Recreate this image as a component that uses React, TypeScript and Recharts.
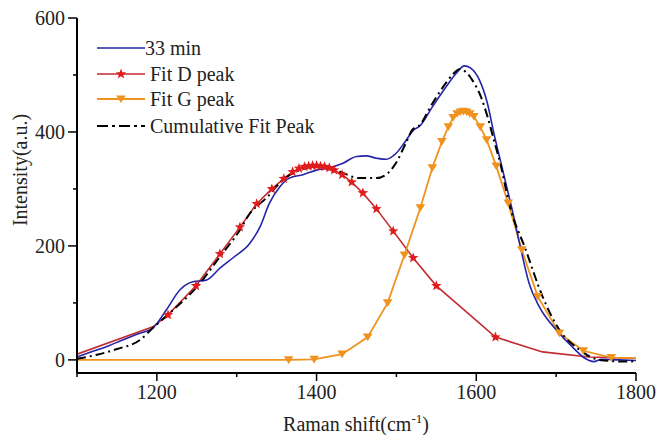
import React from "react";
import { ComposedChart, Line, XAxis, YAxis } from "recharts";

// measured spectrum, 33 min
const spectrumX = [1100, 1120, 1140, 1154, 1175, 1195, 1212, 1229, 1245, 1262, 1279, 1297, 1316, 1329, 1341, 1354, 1366, 1383, 1400, 1416, 1433, 1450, 1462, 1475, 1487, 1500, 1510, 1522, 1529, 1545, 1562, 1575, 1585, 1593, 1604, 1614, 1622, 1631, 1637, 1645, 1656, 1666, 1679, 1700, 1720, 1737, 1747, 1757, 1779, 1800];
const spectrumY = [5, 15, 25, 33, 45, 56, 88, 123, 137, 140, 161, 181, 204, 233, 275, 304, 319, 325, 333, 337, 345, 357, 358, 354, 352, 363, 381, 404, 410, 444, 479, 503, 516, 512, 491, 450, 398, 345, 310, 263, 193, 135, 93, 53, 23, 2, -3, 1, 0, -1];

// fitted D band
const fitDX = [1100, 1195, 1214, 1249, 1279, 1304, 1325, 1344, 1359, 1370, 1378, 1385, 1390, 1395, 1400, 1405, 1410, 1416, 1422, 1432, 1444, 1458, 1475, 1496, 1521, 1550, 1624, 1683, 1741, 1800];
const fitDY = [10, 58, 79, 130, 186, 233, 274, 300, 318, 330, 336, 339, 340, 341, 341, 340, 339, 337, 333, 325, 312, 293, 265, 226, 179, 130, 40, 14, 5, 3];
const fitDSymbol = [false, false, true, true, true, true, true, true, true, true, true, true, true, true, true, true, true, true, true, true, true, true, true, true, true, true, true, false, false, false];

// fitted G band
const fitGX = [1100, 1300, 1365, 1397, 1432, 1464, 1489, 1510, 1530, 1545, 1557, 1565, 1571, 1576, 1580, 1584, 1588, 1592, 1597, 1605, 1613, 1625, 1640, 1657, 1677, 1704, 1734, 1769, 1800];
const fitGY = [0, 0, 0, 1, 10, 40, 100, 184, 267, 337, 383, 409, 425, 432, 435, 436, 435, 432, 427, 409, 386, 340, 275, 193, 111, 47, 16, 4, 3];
const fitGSymbol = [false, false, true, true, true, true, true, true, true, true, true, true, true, true, true, true, true, true, true, true, true, true, true, true, true, true, true, true, false];

// cumulative fit
const cumX = [1100, 1125, 1150, 1179, 1195, 1216, 1250, 1279, 1304, 1316, 1337, 1358, 1379, 1400, 1420, 1433, 1454, 1475, 1491, 1500, 1512, 1520, 1529, 1545, 1562, 1570, 1579, 1587, 1595, 1606, 1614, 1622, 1631, 1641, 1662, 1683, 1704, 1729, 1754, 1787, 1800];
const cumY = [2, 9, 19, 35, 56, 82, 128, 181, 228, 256, 284, 316, 333, 339, 336, 328, 319, 319, 330, 347, 381, 404, 412, 450, 486, 500, 510, 505, 491, 461, 427, 386, 339, 275, 193, 111, 53, 18, 0, -3, -2];

const xTicks = [1100, 1200, 1300, 1400, 1500, 1600, 1700, 1800];
const xLabels = [1200, 1400, 1600, 1800];
const yTicks = [0, 100, 200, 300, 400, 500, 600];
const yLabels = [0, 200, 400, 600];

const legendNames = ["33 min", "Fit D peak", "Fit G peak", "Cumulative Fit Peak"];

const BLUE = "#2424a8";
const RED_LINE = "#c42a30";
const RED_MARK = "#e01c1c";
const ORANGE = "#f0921e";
const FONT = "'Liberation Serif', 'Times New Roman', serif";

const toRows = (xs: number[], ys: number[], marks?: boolean[]) =>
  xs.map((x, i) => ({ x, y: ys[i], m: marks ? marks[i] : false }));

const spectrum = toRows(spectrumX, spectrumY);
const fitD = toRows(fitDX, fitDY, fitDSymbol);
const fitG = toRows(fitGX, fitGY, fitGSymbol);
const cumulative = toRows(cumX, cumY);

function starPath(cx: number, cy: number, r: number) {
  let d = "";
  for (let i = 0; i < 10; i++) {
    const rr = i % 2 === 0 ? r : r * 0.42;
    const a = -Math.PI / 2 + (i * Math.PI) / 5;
    d += (i === 0 ? "M" : "L") + (cx + rr * Math.cos(a)).toFixed(2) + "," + (cy + rr * Math.sin(a)).toFixed(2);
  }
  return d + "Z";
}

function triPath(cx: number, cy: number, r: number) {
  return `M${cx - r},${cy - r * 0.75}L${cx + r},${cy - r * 0.75}L${cx},${cy + r * 0.85}Z`;
}

const StarDot = (props: any) => {
  const { cx, cy, payload, index } = props;
  if (!payload?.m || cx == null) return <g key={`s${index}`} />;
  return <path key={`s${index}`} d={starPath(cx, cy, 5.5)} fill={RED_MARK} />;
};

const TriDot = (props: any) => {
  const { cx, cy, payload, index } = props;
  if (!payload?.m || cx == null) return <g key={`t${index}`} />;
  return <path key={`t${index}`} d={triPath(cx, cy, 4.8)} fill={ORANGE} />;
};

const XTick = (props: any) => {
  const { x, y, payload } = props;
  const major = xLabels.includes(payload.value);
  return (
    <g>
      <line x1={x} x2={x} y1={y} y2={y + (major ? 8 : 4)} stroke="#000" strokeWidth={1.5} />
      {major && (
        <text x={x} y={y + 26} textAnchor="middle" fontFamily={FONT} fontSize={20} fill="#222">
          {payload.value}
        </text>
      )}
    </g>
  );
};

const YTick = (props: any) => {
  const { x, y, payload } = props;
  const major = yLabels.includes(payload.value);
  return (
    <g>
      <line x1={x - (major ? 9 : 4)} x2={x} y1={y} y2={y} stroke="#000" strokeWidth={1.5} />
      {major && (
        <text x={x - 12} y={y + 7} textAnchor="end" fontFamily={FONT} fontSize={20} fill="#222">
          {payload.value}
        </text>
      )}
    </g>
  );
};

export default function App() {
  const rowY = [48, 74, 99, 126];
  return (
    <div style={{ position: "absolute", left: 0, top: 0, width: 656, height: 435, background: "#fff" }}>
      <ComposedChart width={656} height={435} margin={{ top: 18, right: 20, bottom: 0, left: 0 }}>
        <XAxis
          dataKey="x"
          type="number"
          domain={[1100, 1800]}
          ticks={xTicks}
          allowDataOverflow
          height={62}
          tickSize={0}
          tickMargin={0}
          tickLine={false}
          tick={<XTick />}
          axisLine={{ stroke: "#000", strokeWidth: 2 }}
          interval={0}
        />
        <XAxis xAxisId="top" orientation="top" type="number" domain={[1100, 1800]} height={0} tick={false} tickLine={false} axisLine={{ stroke: "#000", strokeWidth: 2 }} />
        <YAxis
          type="number"
          domain={[-23, 600]}
          ticks={yTicks}
          allowDataOverflow
          width={77}
          tickSize={0}
          tickMargin={0}
          tickLine={false}
          tick={<YTick />}
          axisLine={{ stroke: "#000", strokeWidth: 2 }}
          interval={0}
        />
        <YAxis yAxisId="right" orientation="right" type="number" domain={[-23, 600]} width={0} tick={false} tickLine={false} axisLine={{ stroke: "#000", strokeWidth: 2 }} />
        <Line data={fitD} dataKey="y" type="linear" stroke={RED_LINE} strokeWidth={1.6} dot={<StarDot />} activeDot={false} isAnimationActive={false} />
        <Line data={fitG} dataKey="y" type="linear" stroke={ORANGE} strokeWidth={1.8} dot={<TriDot />} activeDot={false} isAnimationActive={false} />
        <Line data={spectrum} dataKey="y" type="monotone" stroke={BLUE} strokeWidth={1.6} dot={false} activeDot={false} isAnimationActive={false} />
        <Line data={cumulative} dataKey="y" type="monotone" stroke="#000" strokeWidth={2} strokeDasharray="9 4 2 4" dot={false} activeDot={false} isAnimationActive={false} />
      </ComposedChart>
      <svg width={656} height={435} style={{ position: "absolute", left: 0, top: 0, pointerEvents: "none" }}>
        {/* legend */}
        <line x1={97} x2={145} y1={rowY[0]} y2={rowY[0]} stroke={BLUE} strokeWidth={1.6} />
        <line x1={97} x2={145} y1={rowY[1]} y2={rowY[1]} stroke={RED_LINE} strokeWidth={1.6} />
        <path d={starPath(121, rowY[1], 5.5)} fill={RED_MARK} />
        <line x1={97} x2={145} y1={rowY[2]} y2={rowY[2]} stroke={ORANGE} strokeWidth={1.8} />
        <path d={triPath(121, rowY[2], 4.8)} fill={ORANGE} />
        <line x1={97} x2={145} y1={rowY[3]} y2={rowY[3]} stroke="#000" strokeWidth={2} strokeDasharray="11 4 3 4" />
        {legendNames.map((n, i) => (
          <text key={n} x={i === 0 ? 145 : 150} y={rowY[i] + 7} fontFamily={FONT} fontSize={20} fill="#222">
            {n}
          </text>
        ))}
        {/* axis titles */}
        <text x={356} y={431} textAnchor="middle" fontFamily={FONT} fontSize={20} fill="#222">
          Raman shift(cm
          <tspan dy={-8} fontSize={13}>-1</tspan>
          <tspan dy={8}>)</tspan>
        </text>
        <text transform="translate(27,170) rotate(-90)" textAnchor="middle" fontFamily={FONT} fontSize={20} fill="#222">
          Intensity(a.u.)
        </text>
      </svg>
    </div>
  );
}
